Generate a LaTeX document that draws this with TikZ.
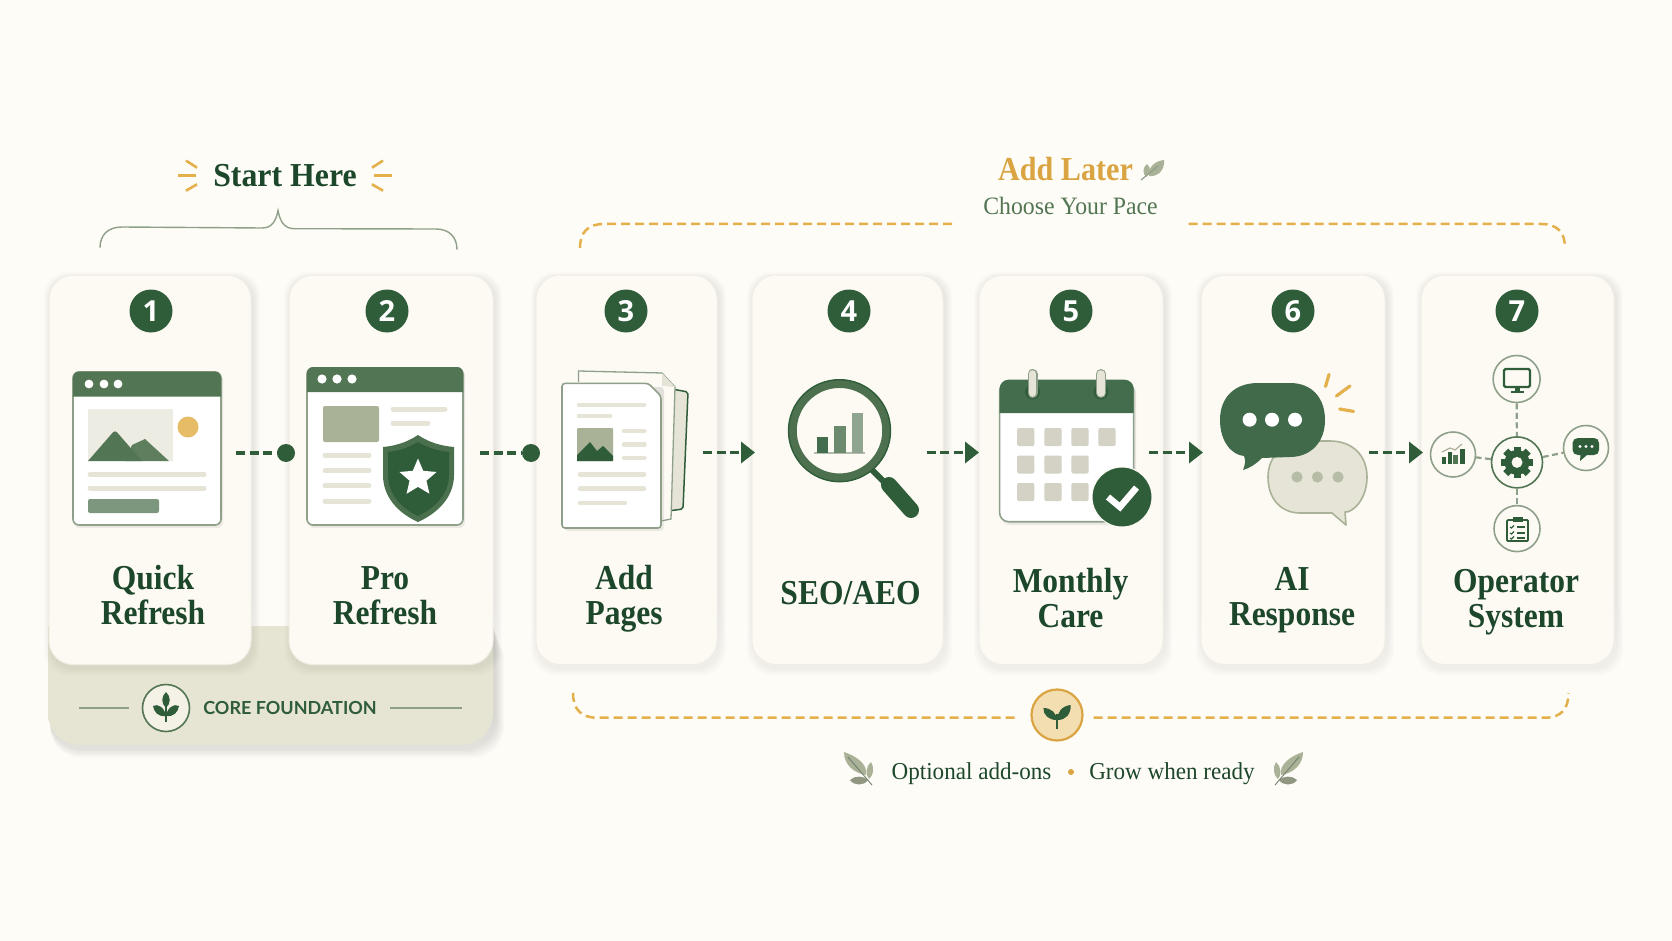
\documentclass[tikz,border=0pt]{standalone}
\usepackage{fontspec}
\usetikzlibrary{arrows.meta,shapes.geometric}
\setmainfont{Liberation Serif}
\newfontfamily\numfont{Open Sans}
\newfontfamily\capfont{Lato}
\newfontfamily\tallserif{Liberation Serif}[FakeStretch=0.9]
\newfontfamily\slimserif{Liberation Serif}[FakeStretch=0.95]
\definecolor{paper}{HTML}{FEFCF6}
\definecolor{cardfill}{HTML}{FDFAF4}
\definecolor{basefill}{HTML}{E6E4D3}
\definecolor{deep}{HTML}{2F5D3A}
\definecolor{midgreen}{HTML}{527553}
\definecolor{inktext}{HTML}{1C472B}
\definecolor{sage}{HTML}{8FA08A}
\definecolor{sagefill}{HTML}{A9B297}
\definecolor{pale}{HTML}{E5E4D6}
\definecolor{gold}{HTML}{E3B04B}
\definecolor{goldtext}{HTML}{D9A441}
\definecolor{shade}{HTML}{8B8468}
\tikzset{
  x=1pt,y=-1pt,
  cardbox/.style={draw=pale!55!cardfill,line width=1pt,fill=cardfill,rounded corners=24pt,inner sep=0pt},
  badge/.style={circle,fill=deep,text=white,minimum size=43pt,inner sep=0pt,font=\numfont\bfseries\fontsize{29}{29}\selectfont},
  cardtitle/.style={align=center,text=inktext,inner sep=0pt,font=\tallserif\bfseries\fontsize{35}{35}\selectfont},
  flowdash/.style={draw=deep,line width=3.5pt,dash pattern=on 9pt off 4.5pt},
  flowarrow/.style={flowdash,-{Triangle[length=14pt,width=21pt,fill=deep]}},
  flowdot/.style={circle,fill=deep,minimum size=18pt,inner sep=0pt},
  thinline/.style={line width=5pt,draw=pale,line cap=round},
  windowedge/.style={draw=sage,line width=1.6pt,fill=white,rounded corners=6pt},
  goldline/.style={draw=gold,line width=2.5pt,dash pattern=on 9pt off 5pt},
  ringnode/.style={circle,draw=sage,line width=1.6pt,fill=cardfill,inner sep=0pt},
  linkdash/.style={draw=sage,line width=2.2pt,dash pattern=on 6pt off 3.5pt},
  spark/.style={draw=gold,line width=3.2pt,line cap=round},
  iconline/.style={draw=deep,line width=2.2pt},
}
\newcommand{\softshadow}[5]{% l t r b radius
  \foreach \g in {1,...,7}{
    \fill[shade,opacity=0.009,rounded corners=#5pt]
      ({#1-\g+2},{#2-\g+4}) rectangle ({#3+\g+2},{#4+\g+4});
  }}
\newcommand{\cardat}[5]{% name l t r b
  \softshadow{#2}{#3}{#4}{#5}{24}
  \node[cardbox,minimum width={#4-#2},minimum height={#5-#3}] (#1) at ({(#2+#4)/2},{(#3+#5)/2}) {};}
\newcommand{\titlelines}[2]{\rule{0pt}{24pt}#1\\#2\rule[-8pt]{0pt}{8pt}}
\newcommand{\sprig}{%
  \fill[sagefill] (844,752) .. controls (856,756) and (868,764) .. (866,775) .. controls (854,773) and (844,765) .. (844,752) -- cycle;
  \fill[sagefill] (871,762) .. controls (875,768) and (873,776) .. (869,779) .. controls (865,775) and (866,766) .. (871,762) -- cycle;
  \fill[sagefill!85!black] (850,780) .. controls (855,775) and (864,776) .. (868,780) .. controls (864,786) and (854,786) .. (850,780) -- cycle;
  \draw[sage!80!black,line width=0.9pt] (848,757) -- (872,785);}
\begin{document}
\begin{tikzpicture}
\useasboundingbox (0,0) rectangle (1672,941);
\fill[paper] (0,0) rectangle (1672,941);

% core foundation plinth
\foreach \g in {1,...,9}{
  \fill[shade,opacity=0.012] (50,665) [rounded corners=32pt] -- ({50},{745+\g+4}) -- ({493+\g+2},{745+\g+4}) [sharp corners] -- ({493+\g+2},{655}) -- (493,626) -- cycle;}
\fill[basefill] (48,690) -- (48,626) -- (493,626) -- (493,690) [rounded corners=32pt] -- (493,745) -- (48,745) -- cycle;
\node[ringnode,draw=midgreen,fill=cardfill!60!basefill,minimum size=47pt] (corering) at (166,708) {};
\coordinate (corelinea) at (79,708);
\coordinate (corelineb) at (129,708);
\coordinate (corelinec) at (390,708);
\coordinate (corelined) at (462,708);
\draw[sage,line width=1.5pt] (corelinea) -- (corelineb);
\node[anchor=base,text=deep,inner sep=0pt,font=\capfont\bfseries\fontsize{18}{18}\selectfont] (corelabel) at (290,714.5) {CORE FOUNDATION};
\draw[sage,line width=1.5pt] (corelinec) -- (corelined);
\draw[deep,line width=2pt] (166,722) -- (166,700);
\fill[deep] (166,692) .. controls (171,697) and (171,703) .. (166,708) .. controls (161,703) and (161,697) .. (166,692) -- cycle;
\fill[deep] (153,706) .. controls (158,703) and (165,708) .. (166,716) .. controls (158,717) and (154,712) .. (153,706) -- cycle;
\fill[deep] (179,706) .. controls (174,703) and (167,708) .. (166,716) .. controls (174,717) and (178,712) .. (179,706) -- cycle;

% cards
\cardat{card1}{49}{275}{251}{664.5}
\cardat{card2}{289}{275}{493}{664.5}
\cardat{card3}{536}{275}{717}{664.5}
\cardat{card4}{752}{275}{943}{664.5}
\cardat{card5}{979}{275}{1163}{664.5}
\cardat{card6}{1201}{275}{1385}{664.5}
\cardat{card7}{1421}{275}{1614}{664.5}

% badges
\node[badge] (b1) at (151,311) {1};
\node[badge] (b2) at (387,311) {2};
\node[badge] (b3) at (626,311) {3};
\node[badge] (b4) at (849,311) {4};
\node[badge] (b5) at (1071,311) {5};
\node[badge] (b6) at (1293,311) {6};
\node[badge] (b7) at (1517,311) {7};

% titles
\node[cardtitle] (t1) at (153,599) {\titlelines{Quick}{Refresh}};
\node[cardtitle] (t2) at (385,599) {\titlelines{Pro}{Refresh}};
\node[cardtitle] (t3) at (624,599) {\titlelines{Add}{Pages}};
\node[cardtitle,anchor=base] (t4) at (850.5,604.5) {SEO/AEO};
\node[cardtitle] (t5) at (1070.5,601.5) {\titlelines{Monthly}{Care}};
\node[cardtitle] (t6) at (1292,600) {\titlelines{AI}{Response}};
\node[cardtitle] (t7) at (1516,601.5) {\titlelines{Operator}{System}};

% browser 1
\fill[shade,opacity=0.07,rounded corners=6pt] (74,374) rectangle (223,528);
\draw[windowedge] (73,372) rectangle (221,525);
\fill[midgreen] (73,396.5) [rounded corners=6pt] -- (73,371.5) -- (221,371.5) [sharp corners] -- (221,396.5) -- cycle;
\foreach \x in {89,104,118}{\fill[white] (\x,384) circle[radius=4.4];}
\fill[pale!70!white] (88,409) rectangle (173,461);
\fill[gold!85!white] (188,427) circle[radius=10.5];
\fill[midgreen!85!sagefill] (132,445) -- (145,439) -- (169,461) -- (125,461) -- cycle;
\fill[midgreen] (88,461) [rounded corners=3pt] -- (115,430) [sharp corners] -- (142,461) -- cycle;
\draw[thinline] (90,474.5) -- (204,474.5);
\draw[thinline] (90,488) -- (204,488);
\fill[midgreen!75!white,rounded corners=2pt] (88,499) rectangle (159,513);

% browser 2
\fill[shade,opacity=0.07,rounded corners=6pt] (308,370) rectangle (465,528);
\draw[windowedge] (307,368) rectangle (463,525);
\fill[midgreen] (307,392) [rounded corners=6pt] -- (307,367) -- (463,367) [sharp corners] -- (463,392) -- cycle;
\foreach \x in {322,337,352}{\fill[white] (\x,379) circle[radius=4.6];}
\fill[sagefill,rounded corners=2pt] (323,406) rectangle (379,442);
\draw[thinline] (393,409) -- (445,409);
\draw[thinline] (393,423) -- (428,423);
\foreach \y in {455.5,470.5,485.6,501}{\draw[thinline] (325,\y) -- (369,\y);}
\draw[white,line width=3pt,line join=round] (418,435) .. controls (430,443) and (442,446) .. (454,447) -- (454,475) .. controls (454,497) and (438,513) .. (418,522) .. controls (398,513) and (383,497) .. (383,475) -- (383,447) .. controls (394,446) and (406,443) .. (418,435) -- cycle;
\fill[midgreen!80!deep] (418,435) .. controls (430,443) and (442,446) .. (454,447) -- (454,475) .. controls (454,497) and (438,513) .. (418,522) .. controls (398,513) and (383,497) .. (383,475) -- (383,447) .. controls (394,446) and (406,443) .. (418,435) -- cycle;
\fill[deep] (418,442) .. controls (428,448) and (438,451) .. (449,452) -- (449,475) .. controls (449,494) and (435,508) .. (418,516) .. controls (401,508) and (388,494) .. (388,475) -- (388,452) .. controls (398,451) and (408,448) .. (418,442) -- cycle;
\node[star,star points=5,star point ratio=2.2,fill=white,inner sep=0pt,minimum size=39pt] (starmark) at (418,478) {};

% pages
\fill[pale,draw=deep,line width=1.5pt,rounded corners=2pt] (672,389) -- (688,392) -- (683,509) -- (668,511) -- cycle;
\fill[cardfill] (578.5,371) -- (662,373) -- (675,387) -- (671,519) -- (655,522) -- (578.5,500) -- cycle;
\draw[sage,line width=1.3pt] (578.5,382) -- (578.5,371) -- (662,373) -- (675,387) -- (671,519) -- (661,521);
\fill[pale] (662,373) -- (675,387) -- (662,386) -- cycle;
\fill[shade,opacity=0.07,rounded corners=4pt] (564,387) rectangle (664,531);
\draw[draw=sage,line width=1.6pt,fill=white,rounded corners=3pt] (562,383.4) -- (648.5,383.4) -- (661,396) -- (661,528) -- (562,528) -- cycle;
\draw[thinline,line width=4.5pt] (579,405) -- (644,405);
\draw[thinline,line width=4.5pt] (579,416) -- (610,416);
\fill[sagefill,rounded corners=1pt] (577,428) rectangle (613,461);
\fill[deep] (577,461) -- (577,455) -- (590,442) -- (597,451) -- (603,446) -- (613,456) -- (613,461) -- cycle;
\foreach \y in {431,444.5,458}{\draw[thinline,line width=4.5pt] (624,\y) -- (644.5,\y);}
\draw[thinline,line width=4.5pt] (580,474.5) -- (644,474.5);
\draw[thinline,line width=4.5pt] (580,488.6) -- (644,488.6);
\draw[thinline,line width=4.5pt] (580,503) -- (625,503);

% magnifier
\draw[deep,line width=6pt] (872,470) -- (886,484);
\draw[deep,line width=16pt,line cap=round] (889,485) -- (911,510);
\fill[cardfill] (839.5,430.7) circle[radius=48];
\draw[midgreen!85!deep,line width=8.5pt] (839.5,430.7) circle[radius=47];
\draw[deep,line width=1.4pt] (839.5,430.7) circle[radius=51];
\draw[sage!70!white,line width=1.2pt] (814,453) -- (865,453);
\fill[deep!90!white] (816.5,436.5) rectangle (827.5,453);
\fill[midgreen!85!white] (834,425.5) rectangle (845.5,453);
\fill[midgreen!65!white] (852,412.5) rectangle (863,453);

% calendar
\fill[shade,opacity=0.07,rounded corners=9pt] (1001,384) rectangle (1136,525);
\draw[windowedge,rounded corners=9pt] (999.6,382) rectangle (1133.6,521.7);
\fill[deep!90!white] (999.6,413) [rounded corners=9pt] -- (999.6,379.7) -- (1133.6,379.7) [sharp corners] -- (1133.6,413) -- cycle;
\foreach \x in {1032.5,1101}{
  \fill[deep] (\x,392) circle[radius=7.5];
  \draw[sage,line width=10pt,line cap=round] (\x,374) -- (\x,393);
  \draw[pale,line width=7.5pt,line cap=round] (\x,374) -- (\x,393);}
\foreach \y in {437,464.5,492}{\foreach \x in {1025.7,1053,1080}{
  \fill[pale!92!black,rounded corners=2pt] ({\x-8.7},{\y-9}) rectangle ({\x+8.7},{\y+9});}}
\fill[pale!92!black,rounded corners=2pt] (1098.3,428) rectangle (1115.7,446);
\node[circle,fill=deep,draw=cardfill,line width=1pt,minimum size=60pt,inner sep=0pt] (checkdisc) at (1122,497) {};
\draw[white,line width=6.5pt,line join=miter] (1108,497) -- (1120,507) -- (1136.5,487.6);

% bubbles
\fill[pale,draw=sagefill,line width=1.6pt,line join=round] (1268,477) .. controls (1268,455) and (1285,441) .. (1305,441) -- (1330,441) .. controls (1352,441) and (1367,455) .. (1367,477) .. controls (1367,500) and (1352,513) .. (1345,512) -- (1346,525) -- (1332,513) -- (1300,513) .. controls (1282,513) and (1268,500) .. (1268,477) -- cycle;
\foreach \x in {1297,1317.4,1338}{\fill[sagefill!85!white] (\x,477) circle[radius=5.6];}
\fill[deep!92!white,line join=round] (1220,420) .. controls (1220,397) and (1235,383) .. (1258,383) -- (1290,383) .. controls (1312,383) and (1325,398) .. (1325,420) .. controls (1325,443) and (1310,457) .. (1290,457) -- (1262,458) .. controls (1256,464) and (1250,468) .. (1243,470) .. controls (1245,465) and (1246,460) .. (1244,456) .. controls (1232,455) and (1220,442) .. (1220,420) -- cycle;
\foreach \x in {1249.6,1272,1295}{\fill[white] (\x,419.7) circle[radius=7];}
\draw[spark] (1329,374.5) -- (1325.5,386.5);
\draw[spark] (1350,386) -- (1336.4,396);
\draw[spark] (1339.7,409) -- (1353.5,411.4);

% operator system
\node[ringnode,minimum size=47pt] (optop) at (1516.6,379) {};
\node[ringnode,minimum size=51pt,draw=midgreen] (opgear) at (1517,462.4) {};
\node[ringnode,minimum size=45pt] (opleft) at (1453,454.5) {};
\node[ringnode,minimum size=45pt] (opright) at (1586,448) {};
\node[ringnode,minimum size=46pt] (opbottom) at (1517,528.6) {};
\draw[linkdash] (optop) -- (opgear);
\draw[linkdash] (opgear) -- (opbottom);
\draw[linkdash] (opgear) -- (opleft);
\draw[linkdash] (opgear) -- (opright);
\fill[deep] (1517,462.4) circle[radius=12.5];
\foreach \a in {0,45,...,315}{
  \fill[deep,rotate around={\a:(1517,462.4)}] (1513.5,446.5) rectangle (1520.5,456);}
\fill[cardfill] (1517,462.4) circle[radius=5.5];
\draw[iconline,rounded corners=1.5pt] (1504,369) rectangle (1530,387);
\fill[deep] (1514.5,387) rectangle (1519.5,391);
\fill[deep] (1510.5,391) rectangle (1523.5,393);
\fill[deep] (1442,457) rectangle (1446,464);
\fill[deep] (1447.7,452) rectangle (1451.7,464);
\fill[midgreen] (1453.2,454.5) rectangle (1457.5,464);
\fill[deep] (1459.6,448.5) rectangle (1464.6,464);
\draw[sagefill,line width=1.2pt] (1442,452) -- (1450,448) -- (1455,450) -- (1462,444);
\fill[deep,line join=round] (1578,438) -- (1594,438) .. controls (1597,438) and (1599,440) .. (1599,443) -- (1599,450) .. controls (1599,453) and (1597,455) .. (1594,455) -- (1587,455) -- (1580,461) -- (1580.5,455) -- (1578,455) .. controls (1575,455) and (1572.5,453) .. (1572.5,450) -- (1572.5,443) .. controls (1572.5,440) and (1575,438) .. (1578,438) -- cycle;
\foreach \x in {1580,1586,1592}{\fill[white] (\x,446.5) circle[radius=1.7];}
\draw[iconline,line width=1.8pt,rounded corners=1pt] (1507,520) rectangle (1528,541);
\fill[deep] (1512.5,517) rectangle (1522.5,522);
\foreach \y in {527,533,538}{
  \draw[deep,line width=1.2pt] (1510,\y) -- (1511.5,{\y+1}) -- (1514,{\y-1.5});
  \draw[deep,line width=1.2pt] (1516.5,\y) -- (1525,\y);}

% connectors
\coordinate (out1) at (236,453);
\node[flowdot] (dot1) at (286,453) {};
\draw[flowdash] (out1) -- (dot1.west);
\coordinate (out2) at (480,453);
\node[flowdot] (dot2) at (531,453) {};
\draw[flowdash] (out2) -- (dot2.west);
\coordinate (out3) at (703,452.5);
\coordinate (in3) at (755,452.5);
\draw[flowarrow] (out3) -- (in3);
\coordinate (out4) at (926.5,452.5);
\coordinate (in4) at (979,452.5);
\draw[flowarrow] (out4) -- (in4);
\coordinate (out5) at (1149,452.5);
\coordinate (in5) at (1203,452.5);
\draw[flowarrow] (out5) -- (in5);
\coordinate (out6) at (1369,452.5);
\coordinate (in6) at (1423,452.5);
\draw[flowarrow] (out6) -- (in6);

% start here
\node[anchor=base,text=inktext,inner sep=0pt,font=\slimserif\bfseries\fontsize{33.5}{33.5}\selectfont] (starthere) at (285,186.5) {Start Here};
\foreach \a/\b/\c/\d in {186/160.6/197/167.7,178/175.6/196/175.6,186/190.7/197/184.3,383/160.6/372/167.7,392/175.6/374/175.6,383/190.7/372/184.3}{
  \draw[gold,line width=2.6pt] (\a,\b) -- (\c,\d);}
\draw[sage,line width=1.4pt] (100,247.7) .. controls (100,235) and (108,227) .. (122,227) -- (262,228) .. controls (272,228) and (276,221) .. (278,210.5) .. controls (280,221) and (284,228.5) .. (294,228.7) -- (436,229) .. controls (449,229) and (457,237) .. (457,249.6);

% add later
\node[anchor=base,text=goldtext,inner sep=0pt,font=\tallserif\bfseries\fontsize{33.5}{33.5}\selectfont] (addlater) at (1065.5,180.5) {Add Later};
\fill[sagefill] (1164,160) .. controls (1165,170) and (1158,177) .. (1149,176) .. controls (1148,167) and (1155,161) .. (1164,160) -- cycle;
\fill[sagefill] (1147,164) .. controls (1152,168) and (1150,174) .. (1146,177) .. controls (1142,173) and (1143,167) .. (1147,164) -- cycle;
\draw[sage,line width=1.2pt] (1141,180) -- (1158,166);
\node[anchor=base,text=midgreen,inner sep=0pt,font=\slimserif\fontsize{25}{25}\selectfont] (choosepace) at (1070.5,214.5) {Choose Your Pace};
\coordinate (topleftend) at (580,248);
\coordinate (toprightend) at (1565,248);
\coordinate (topgapa) at (957,224);
\coordinate (topgapb) at (1188.6,224);
\draw[goldline] (topleftend) .. controls (580,232) and (588,224) .. (604,224) -- (topgapa);
\draw[goldline] (topgapb) -- (1541,224) .. controls (1557,224) and (1565,232) .. (toprightend);

% bottom
\node[circle,fill=gold!40!paper,draw=goldtext,line width=2.2pt,minimum size=51pt,inner sep=0pt] (sprout) at (1057,715) {};
\coordinate (botleftend) at (573,693);
\coordinate (botrightend) at (1568.5,693);
\coordinate (botgapa) at (1019,717.7);
\coordinate (botgapb) at (1093.5,717.7);
\draw[goldline] (botleftend) .. controls (573,709) and (581,717.7) .. (597,717.7) -- (botgapa);
\draw[goldline] (botgapb) -- (1545,717.7) .. controls (1561,717.7) and (1568.5,709) .. (botrightend);
\draw[deep,line width=2pt] (1057,729) -- (1057,714);
\fill[deep] (1043.4,708) .. controls (1051,708) and (1057,713) .. (1056.5,720) .. controls (1049,720) and (1043,715) .. (1043.4,708) -- cycle;
\fill[deep] (1070.7,705) .. controls (1071,714) and (1066,720) .. (1057.5,720) .. controls (1057,712) and (1062,706) .. (1070.7,705) -- cycle;
\node[anchor=base,text=inktext,inner sep=0pt,font=\slimserif\fontsize{24.3}{24.3}\selectfont] (optional) at (971.5,779) {Optional add-ons};
\node[circle,fill=goldtext,minimum size=6pt,inner sep=0pt] (middot) at (1071,772) {};
\node[anchor=base,text=inktext,inner sep=0pt,font=\slimserif\fontsize{24.3}{24.3}\selectfont] (growready) at (1172,779) {Grow when ready};
\sprig
\begin{scope}[xshift=2147pt,xscale=-1]\sprig\end{scope}
\end{tikzpicture}
\end{document}
